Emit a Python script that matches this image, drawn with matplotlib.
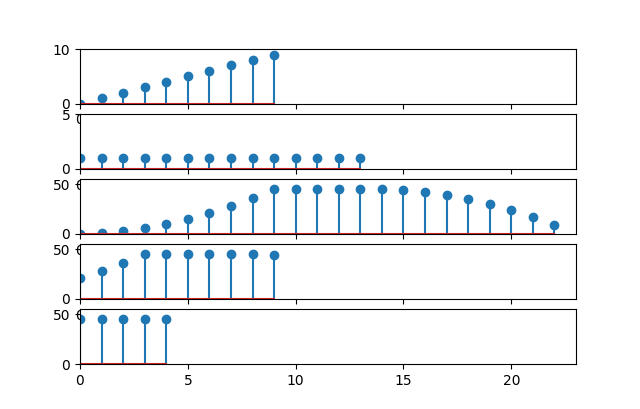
import matplotlib
matplotlib.use('Agg')
import matplotlib.pyplot as plt

# input signal, kernel, and the three convolution modes
sig = [0, 1, 2, 3, 4, 5, 6, 7, 8, 9]
kern = [1, 1, 1, 1, 1, 1, 1, 1, 1, 1, 1, 1, 1, 1]
full = [0, 1, 3, 6, 10, 15, 21, 28, 36, 45, 45, 45, 45, 45,
        45, 44, 42, 39, 35, 30, 24, 17, 9]
same = [21, 28, 36, 45, 45, 45, 45, 45, 45, 44]
valid = [45, 45, 45, 45, 45]

series = [sig, kern, full, same, valid]
tops = [10, 5, 55, 55, 55]

fig = plt.figure(figsize=(6.4, 4.09))
for i, (y, top) in enumerate(zip(series, tops)):
	plt.subplot(5, 1, i + 1)
	plt.stem(range(len(y)), y)
	plt.xlim(0, 23)
	plt.ylim(0, top)

plt.subplots_adjust(hspace=0.19)
plt.savefig('out.png', dpi=100)
